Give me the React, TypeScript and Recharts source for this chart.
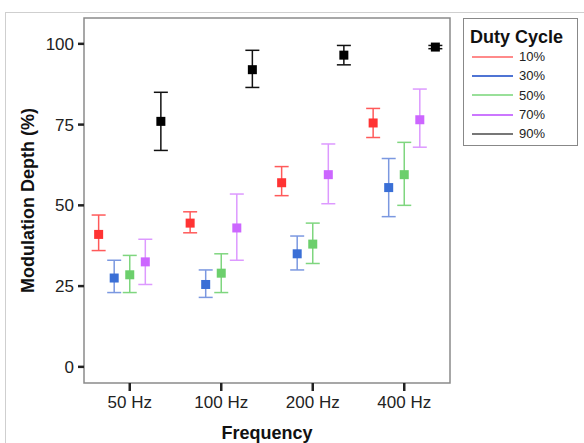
import { ComposedChart, Scatter, ErrorBar, XAxis, YAxis, ReferenceArea } from 'recharts';

const categories = ['50 Hz', '100 Hz', '200 Hz', '400 Hz'];
const dutyCycles = ['10%', '30%', '50%', '70%', '90%'];

// mean and 95% CI bounds, one array per duty cycle, ordered like categories
const mean10 = [41, 44.5, 57, 75.5];
const low10 = [36, 41.5, 53, 71];
const high10 = [47, 48, 62, 80];

const mean30 = [27.5, 25.5, 35, 55.5];
const low30 = [23, 21.5, 30, 46.5];
const high30 = [33, 30, 40.5, 64.5];

const mean50 = [28.5, 29, 38, 59.5];
const low50 = [23, 23, 32, 50];
const high50 = [34.5, 35, 44.5, 69.5];

const mean70 = [32.5, 43, 59.5, 76.5];
const low70 = [25.5, 33, 50.5, 68];
const high70 = [39.5, 53.5, 69, 86];

const mean90 = [76, 92, 96.5, 99];
const low90 = [67, 86.5, 93.5, 98.5];
const high90 = [85, 98, 99.5, 99.5];

const yTicks = [0, 25, 50, 75, 100];

const seriesStyle = [
  { marker: '#ff3333', bar: '#ff5a5a', legend: '#ff8a8a' },
  { marker: '#3a6fd6', bar: '#7b98e0', legend: '#4f74d4' },
  { marker: '#6ccf6c', bar: '#7fd67f', legend: '#99e099' },
  { marker: '#cc66ff', bar: '#dd99ff', legend: '#cc77ff' },
  { marker: '#000000', bar: '#111111', legend: '#777777' },
];

const allSeries = [
  [mean10, low10, high10],
  [mean30, low30, high30],
  [mean50, low50, high50],
  [mean70, low70, high70],
  [mean90, low90, high90],
];

const GROUP_SPREAD = 0.17;

function buildSeries(idx: number) {
  const [m, lo, hi] = allSeries[idx];
  return categories.map((_, c) => ({
    x: c + 1 + (idx - 2) * GROUP_SPREAD,
    y: m[c],
    err: [m[c] - lo[c], hi[c] - m[c]],
  }));
}

const font = '"Liberation Sans", Arial, sans-serif';

function Square(color: string) {
  return (props: any) => {
    const { cx, cy } = props;
    if (cx == null || cy == null) return null;
    return <rect x={cx - 4.5} y={cy - 4.5} width={9} height={9} fill={color} />;
  };
}

function LegendBox() {
  return (
    <div style={{ position: 'absolute', left: 463, top: 18, width: 115, height: 128, border: '1.5px solid #888', background: '#fff', fontFamily: font, boxSizing: 'border-box' }}>
      <div style={{ fontWeight: 'bold', fontSize: 18, color: '#111', padding: '8px 0 0 6px', lineHeight: '20px' }}>Duty Cycle</div>
      {dutyCycles.map((d, i) => (
        <div key={d} style={{ display: 'flex', alignItems: 'center', height: 19.3, marginLeft: 8 }}>
          <span style={{ width: 41, height: 2, background: seriesStyle[i].legend, display: 'inline-block' }} />
          <span style={{ fontSize: 13, color: '#222', marginLeft: 6 }}>{d}</span>
        </div>
      ))}
    </div>
  );
}

export default function App() {
  return (
    <div style={{ position: 'fixed', left: 0, top: 0, width: 584, height: 443, background: '#fff', fontFamily: font }}>
      <div style={{ position: 'absolute', left: 5, top: 12, right: 0, bottom: 0, borderLeft: '1px solid #cfcfcf', borderTop: '1px solid #cfcfcf' }} />
      <ComposedChart width={584} height={443} margin={{ top: 18, right: 134, bottom: 0, left: 0 }} style={{ position: 'absolute', left: 0, top: 0 }}>
        <XAxis
          type="number"
          dataKey="x"
          domain={[0.5, 4.5]}
          ticks={[1, 2, 3, 4]}
          tickFormatter={(v: number) => categories[v - 1]}
          allowDataOverflow
          height={60}
          axisLine={false}
          tickLine={{ stroke: '#222', strokeWidth: 2.5 }}
          tickSize={8}
          tickMargin={5}
          tick={{ fontSize: 17, fill: '#222', fontFamily: font }}
          label={{ value: 'Frequency', position: 'insideBottom', offset: 4, style: { fontSize: 18, fontWeight: 'bold', fill: '#111', fontFamily: font } }}
        />
        <YAxis
          type="number"
          domain={[-5, 108]}
          ticks={yTicks}
          allowDataOverflow
          width={84}
          axisLine={false}
          tickLine={{ stroke: '#222', strokeWidth: 2.5 }}
          tickSize={6}
          tickMargin={4}
          tick={{ fontSize: 17, fill: '#222', fontFamily: font }}
          label={{ value: 'Modulation Depth (%)', angle: -90, position: 'insideLeft', offset: 28, style: { textAnchor: 'middle', fontSize: 18, fontWeight: 'bold', fill: '#111', fontFamily: font } }}
        />
        <ReferenceArea x1={0.5} x2={4.5} y1={-5} y2={108} fill="none" stroke="#8a8a8a" strokeWidth={1.5} />
        {dutyCycles.map((d, i) => (
          <Scatter key={d} name={d} data={buildSeries(i)} dataKey="y" isAnimationActive={false} shape={Square(seriesStyle[i].marker)}>
            <ErrorBar dataKey="err" direction="y" width={7} stroke={seriesStyle[i].bar} strokeWidth={1.5} />
          </Scatter>
        ))}
      </ComposedChart>
      <LegendBox />
    </div>
  );
}
